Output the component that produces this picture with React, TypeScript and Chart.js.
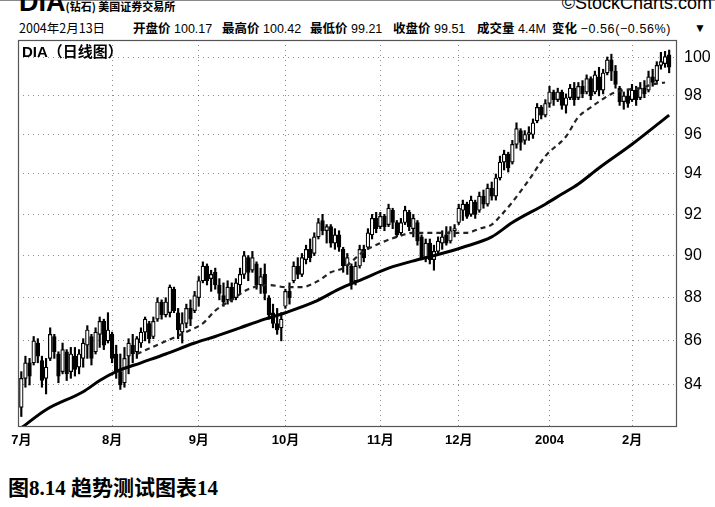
import React, { useEffect, useRef } from "react";
import { Chart, registerables } from "chart.js";

Chart.register(...registerables);

// Month start positions (trading-day index) and their labels
const monthTickIdx = [0, 22, 43, 64, 87, 106, 128, 148];
const monthLabels = ["7月", "8月", "9月", "10月", "11月", "12月", "2004", "2月"];
const yTicks = [84, 86, 88, 90, 92, 94, 96, 98, 100];

// Daily OHLC, 1 Jul 2003 .. 13 Feb 2004
const opens = [
  83.0, 84.3, 85.0, 85.0, 85.9, 85.1, 84.3, 85.2, 86.2, 85.4, 84.6, 85.5, 84.6, 85.3, 84.8, 85.2, 85.8, 86.2, 85.5, 86.3,
  86.9, 86.0, 86.3, 85.4, 84.6, 84.1, 85.3, 85.8, 85.5, 85.9, 86.4, 86.8, 86.2, 87.0, 87.8, 87.2, 87.3, 88.4, 87.3, 86.4,
  86.8, 87.5, 87.4, 88.0, 88.8, 89.5, 88.9, 89.2, 88.6, 88.1, 87.9, 88.5, 88.0, 88.6, 89.1, 89.9, 89.3, 89.6, 88.6, 89.1,
  88.0, 87.3, 86.8, 86.6, 87.6, 88.3, 88.8, 89.5, 89.1, 89.8, 90.3, 90.1, 90.9, 91.7, 91.2, 91.4, 90.6, 91.0, 90.3, 89.5,
  89.5, 88.8, 89.5, 90.3, 90.4, 91.0, 91.8, 91.4, 91.9, 91.5, 92.2, 91.6, 91.1, 91.6, 92.1, 91.3, 91.6, 90.9, 89.9, 90.6,
  89.8, 90.2, 90.6, 91.0, 90.7, 91.2, 91.6, 92.2, 92.5, 92.0, 92.6, 92.2, 92.9, 92.5, 93.3, 92.9, 93.8, 94.6, 95.0, 94.6,
  95.5, 96.2, 95.7, 96.0, 96.0, 96.7, 97.4, 97.0, 97.6, 98.2, 97.8, 98.2, 97.5, 97.9, 98.4, 97.9, 98.5, 98.2, 98.9, 98.2,
  99.0, 98.3, 99.2, 99.9, 99.3, 98.4, 97.7, 98.0, 97.8, 98.3, 97.9, 98.4, 98.3, 99.0, 98.8, 99.6, 99.7, 100.17,
];
const highs = [
  84.6, 85.3, 85.2, 86.2, 86.1, 85.3, 85.2, 86.6, 86.3, 85.5, 85.9, 85.6, 85.7, 85.7, 85.6, 86.1, 86.7, 86.3, 86.6, 87.1,
  87.0, 87.3, 86.4, 85.8, 85.4, 85.7, 86.1, 86.3, 86.2, 86.6, 87.1, 86.9, 87.1, 88.0, 87.9, 88.0, 88.6, 88.5, 87.5, 87.3,
  87.7, 87.9, 88.3, 89.0, 89.7, 89.6, 89.3, 89.4, 88.9, 88.7, 88.8, 88.7, 88.9, 89.4, 90.2, 90.0, 90.2, 89.7, 89.4, 89.6,
  88.1, 87.7, 87.5, 87.3, 88.4, 88.7, 89.7, 89.9, 90.1, 90.5, 90.8, 91.1, 91.8, 92.0, 91.5, 91.5, 91.3, 91.2, 90.4, 90.1,
  89.6, 89.7, 90.5, 90.5, 91.3, 92.0, 92.1, 92.1, 92.0, 92.5, 92.3, 91.7, 91.8, 92.4, 92.2, 92.0, 91.7, 91.0, 90.8, 90.8,
  90.5, 90.9, 91.2, 91.4, 91.4, 91.5, 92.5, 92.7, 92.6, 92.9, 92.7, 93.1, 93.2, 93.5, 93.6, 94.0, 94.9, 95.2, 95.1, 95.7,
  96.6, 96.3, 96.2, 96.4, 96.8, 97.6, 97.5, 97.8, 98.5, 98.3, 98.4, 98.3, 98.1, 98.6, 98.7, 98.7, 98.8, 99.1, 99.0, 99.3,
  99.5, 99.4, 100.05, 100.2, 99.6, 98.5, 98.2, 98.3, 98.6, 98.5, 98.7, 98.8, 99.3, 99.4, 99.8, 100.3, 100.35, 100.42,
];
const lows = [
  82.6, 83.9, 84.0, 84.9, 85.0, 83.9, 83.6, 85.1, 85.2, 84.1, 84.5, 84.2, 84.3, 84.4, 84.5, 84.8, 85.2, 84.9, 85.4, 85.7,
  85.6, 85.9, 85.0, 84.3, 83.8, 83.9, 84.5, 85.0, 85.2, 85.7, 86.0, 85.9, 86.1, 86.9, 87.0, 87.1, 87.1, 87.3, 86.1, 85.9,
  86.6, 86.7, 87.3, 87.6, 88.7, 88.6, 88.3, 88.4, 87.9, 87.6, 87.7, 87.8, 87.9, 88.2, 88.9, 88.8, 89.2, 88.4, 88.2, 87.9,
  87.0, 86.6, 86.3, 86.0, 87.5, 87.7, 88.7, 88.9, 89.0, 89.6, 89.7, 90.0, 90.8, 91.0, 90.6, 90.4, 90.3, 90.2, 89.2, 89.1,
  88.4, 88.6, 89.4, 89.7, 90.3, 90.8, 91.1, 91.3, 91.2, 91.4, 91.3, 90.9, 91.0, 91.5, 91.2, 90.9, 90.5, 89.8, 89.7, 89.6,
  89.3, 90.1, 90.3, 90.5, 90.6, 90.9, 91.5, 91.7, 91.8, 91.9, 91.8, 92.1, 92.3, 92.4, 92.7, 92.7, 93.7, 94.2, 94.1, 94.5,
  95.3, 95.2, 95.5, 95.7, 95.8, 96.6, 96.8, 96.9, 97.4, 97.5, 97.7, 97.3, 97.1, 97.8, 97.5, 97.8, 97.9, 98.1, 97.8, 98.1,
  98.0, 98.1, 99.1, 98.8, 98.4, 97.5, 97.3, 97.4, 97.7, 97.5, 97.8, 97.9, 98.2, 98.5, 98.7, 99.4, 99.5, 99.21,
];
const closes = [
  84.3, 85.0, 84.4, 86.0, 85.3, 84.2, 84.8, 86.3, 85.5, 84.4, 85.6, 84.5, 85.4, 84.7, 85.4, 85.9, 86.5, 85.2, 86.4, 86.9,
  85.8, 86.5, 85.2, 84.6, 84.0, 85.2, 85.9, 85.4, 86.1, 86.4, 87.0, 86.1, 86.9, 87.8, 87.2, 87.8, 88.5, 87.4, 86.5, 86.8,
  87.5, 87.0, 88.1, 88.8, 89.5, 88.8, 89.1, 88.6, 88.2, 87.8, 88.5, 87.9, 88.7, 89.1, 90.0, 89.2, 89.9, 88.6, 89.0, 88.2,
  87.2, 86.8, 86.5, 87.0, 88.3, 88.0, 89.5, 89.1, 89.9, 90.3, 89.9, 90.9, 91.6, 91.2, 91.4, 90.6, 91.0, 90.4, 89.5, 89.9,
  88.7, 89.5, 90.3, 89.9, 91.1, 91.8, 91.3, 91.9, 91.4, 92.3, 91.6, 91.0, 91.6, 92.2, 91.4, 91.8, 90.7, 89.9, 90.6, 89.8,
  90.2, 90.7, 90.9, 90.6, 91.2, 91.3, 92.3, 92.5, 91.9, 92.7, 92.0, 92.9, 92.5, 93.3, 92.9, 93.8, 94.6, 95.0, 94.3, 95.5,
  96.3, 95.6, 96.0, 96.1, 96.6, 97.4, 97.0, 97.6, 98.2, 97.8, 98.2, 97.5, 97.9, 98.4, 97.8, 98.5, 98.1, 98.9, 98.0, 99.1,
  98.3, 99.2, 99.9, 99.3, 98.6, 97.7, 98.0, 97.6, 98.3, 97.8, 98.4, 98.1, 99.0, 98.7, 99.6, 99.8, 100.07, 99.51,
];

// Slow moving average (solid) — day index and value
const slowMaIdx = [0, 6, 15, 19, 23, 29, 35, 42, 47, 53, 59, 64, 71, 77, 83, 89, 96, 101, 107, 114, 119, 127, 131, 135, 140, 148, 157];
const slowMaVals = [82.1, 82.9, 83.7, 84.2, 84.6, 85.0, 85.4, 85.9, 86.2, 86.6, 87.0, 87.3, 87.8, 88.4, 88.9, 89.4, 89.8, 90.05, 90.4, 90.9, 91.6, 92.5, 93.0, 93.5, 94.3, 95.5, 97.0];

// Fast moving average (dashed)
const fastMaIdx = [28, 34, 41, 44, 47, 51, 55, 60, 64, 68, 72, 75, 78, 83, 87, 91, 95, 100, 103, 108, 111, 114, 116, 119, 123, 127, 132, 135, 138, 140, 143, 146, 150, 153, 156];
const fastMaVals = [85.4, 85.9, 86.5, 86.8, 87.4, 87.9, 88.4, 88.6, 88.5, 88.5, 88.8, 89.2, 89.4, 90.2, 90.6, 90.9, 91.1, 91.1, 91.1, 91.1, 91.3, 91.5, 91.9, 92.6, 93.7, 94.9, 95.9, 96.9, 97.4, 97.7, 98.1, 98.3, 98.4, 98.6, 98.7];

const SANS = '"Liberation Sans", "Noto Sans CJK SC", sans-serif';
const CJK = '"Noto Sans CJK SC", "Liberation Sans", sans-serif';

export default function App() {
  const ref = useRef<HTMLCanvasElement>(null);

  useEffect(() => {
    document.body.style.margin = "0";
    const canvas = ref.current;
    if (!canvas) return;
    const idx = closes.map((_, i) => i);
    const wickData = idx.map((i) => ({ x: i, y: [lows[i], highs[i]] }));
    const bodyData = idx.map((i) => ({
      x: i,
      y: [Math.min(opens[i], closes[i]), Math.max(opens[i], closes[i])],
    }));
    const bodyFill = idx.map((i) => (closes[i] >= opens[i] ? "#ffffff" : "#000000"));
    const slow = slowMaIdx.map((x, i) => ({ x, y: slowMaVals[i] }));
    const fast = fastMaIdx.map((x, i) => ({ x, y: fastMaVals[i] }));

    const frame = {
      id: "frame",
      afterDraw(chart: any) {
        const { ctx, chartArea } = chart;
        ctx.save();
        ctx.strokeStyle = "#555";
        ctx.lineWidth = 1.2;
        ctx.strokeRect(
          chartArea.left + 0.5,
          chartArea.top + 0.5,
          chartArea.right - chartArea.left - 1,
          chartArea.bottom - chartArea.top - 1
        );
        ctx.restore();
      },
    };

    const gridColor = "rgba(0,0,0,0.45)";

    const chart = new Chart(canvas, {
      type: "bar",
      data: {
        datasets: [
          {
            type: "line",
            data: slow,
            borderColor: "#000",
            borderWidth: 3,
            pointRadius: 0,
            cubicInterpolationMode: "monotone",
            order: 0,
          } as any,
          {
            type: "line",
            data: fast,
            borderColor: "#222",
            borderWidth: 2.2,
            borderDash: [5, 4],
            pointRadius: 0,
            cubicInterpolationMode: "monotone",
            order: 1,
          } as any,
          {
            type: "bar",
            data: bodyData,
            backgroundColor: bodyFill,
            borderColor: "#000",
            borderWidth: 1.2,
            borderSkipped: false,
            barThickness: 3.7,
            minBarLength: 1.5,
            grouped: false,
            order: 2,
          } as any,
          {
            type: "bar",
            data: wickData,
            backgroundColor: "#000",
            borderWidth: 0,
            barThickness: 1.5,
            grouped: false,
            order: 3,
          } as any,
        ],
      },
      options: {
        responsive: false,
        animation: false,
        layout: { padding: { left: 18, top: 40, right: 0, bottom: 0 } },
        plugins: {
          legend: { display: false },
          tooltip: { enabled: false },
          title: { display: false },
        },
        scales: {
          x: {
            type: "linear",
            min: -0.8,
            max: 158.9,
            bounds: "data",
            offset: false,
            afterBuildTicks: (s: any) => {
              s.ticks = monthTickIdx.map((v) => ({ value: v }));
            },
            afterFit: (s: any) => {
              s.height = 33;
            },
            ticks: {
              autoSkip: false,
              maxRotation: 0,
              padding: 6,
              color: "#000",
              font: { family: SANS, size: 13, weight: "bold" },
              callback: (v: any) => {
                const k = monthTickIdx.indexOf(Number(v));
                return k >= 0 ? monthLabels[k] : "";
              },
            },
            grid: {
              offset: false,
              drawTicks: false,
              lineWidth: 1,
              color: (c: any) => (c.tick && c.tick.value === 0 ? "rgba(0,0,0,0)" : gridColor),
            },
            border: { display: false, dash: [1, 4] },
          } as any,
          y: {
            type: "logarithmic",
            position: "right",
            min: 82.14,
            max: 100.96,
            bounds: "data",
            afterBuildTicks: (s: any) => {
              s.ticks = yTicks.map((v) => ({ value: v }));
            },
            afterFit: (s: any) => {
              s.width = 38;
            },
            ticks: {
              padding: 7,
              color: "#000",
              font: { family: SANS, size: 16 },
              callback: (v: any) => String(v),
            },
            grid: { drawTicks: false, lineWidth: 1, color: gridColor },
            border: { display: false, dash: [1, 4] },
          } as any,
        },
      },
      plugins: [frame],
    });
    return () => chart.destroy();
  }, []);

  const label: React.CSSProperties = { fontWeight: "bold", fontFamily: CJK };
  const item = (left: number, name: string, value: string) => (
    <div style={{ position: "absolute", left, top: 21, fontSize: 12.5, lineHeight: "14px", whiteSpace: "nowrap" }}>
      <span style={label}>{name}</span> <span>{value}</span>
    </div>
  );

  return (
    <div
      style={{
        position: "relative",
        width: 715,
        height: 507,
        background: "#fff",
        overflow: "hidden",
        fontFamily: SANS,
        color: "#000",
      }}
    >
      <div style={{ position: "absolute", left: 0, top: 0, width: 715, height: 1, background: "#888" }} />
      <div style={{ position: "absolute", left: 19, top: -11, whiteSpace: "nowrap", lineHeight: "26px" }}>
        <span style={{ fontSize: 27, fontWeight: "bold", fontFamily: SANS }}>DIA</span>
        <span style={{ fontSize: 11, fontWeight: "bold", fontFamily: CJK }}>(钻石) 美国证券交易所</span>
      </div>
      <div
        style={{
          position: "absolute",
          right: 3,
          top: -7,
          fontSize: 18,
          lineHeight: "20px",
          whiteSpace: "nowrap",
          fontFamily: SANS,
        }}
      >
        ©StockCharts.com
      </div>
      <div style={{ position: "absolute", left: 19, top: 21, fontSize: 12.5, lineHeight: "14px", whiteSpace: "nowrap", fontFamily: CJK }}>
        2004年2月13日
      </div>
      {item(133, "开盘价", "100.17")}
      {item(222, "最高价", "100.42")}
      {item(310, "最低价", "99.21")}
      {item(393, "收盘价", "99.51")}
      {item(477, "成交量", "4.4M")}
      <div style={{ position: "absolute", left: 552, top: 21, fontSize: 12.5, lineHeight: "14px", whiteSpace: "nowrap" }}>
        <span style={label}>变化</span> <span style={{ letterSpacing: 0.6 }}>{"\u22120.56(\u22120.56%)"}</span>
      </div>
      <div style={{ position: "absolute", left: 694, top: 21, fontSize: 12, lineHeight: "14px" }}>{"\u25BC"}</div>
      <canvas ref={ref} width={715} height={460} style={{ position: "absolute", left: 0, top: 0 }} />
      <div
        style={{
          position: "absolute",
          left: 22,
          top: 42,
          fontSize: 15,
          lineHeight: "18px",
          fontWeight: "bold",
          whiteSpace: "nowrap",
        }}
      >
        <span style={{ fontFamily: SANS }}>DIA</span>
        <span style={{ fontFamily: CJK }}>（日线图）</span>
      </div>
      <div
        style={{
          position: "absolute",
          left: 8,
          top: 475,
          fontSize: 21,
          lineHeight: "26px",
          fontWeight: "bold",
          whiteSpace: "nowrap",
          fontFamily: '"Liberation Serif", "Noto Sans CJK SC", serif',
        }}
      >
        图8.14 趋势测试图表14
      </div>
    </div>
  );
}
